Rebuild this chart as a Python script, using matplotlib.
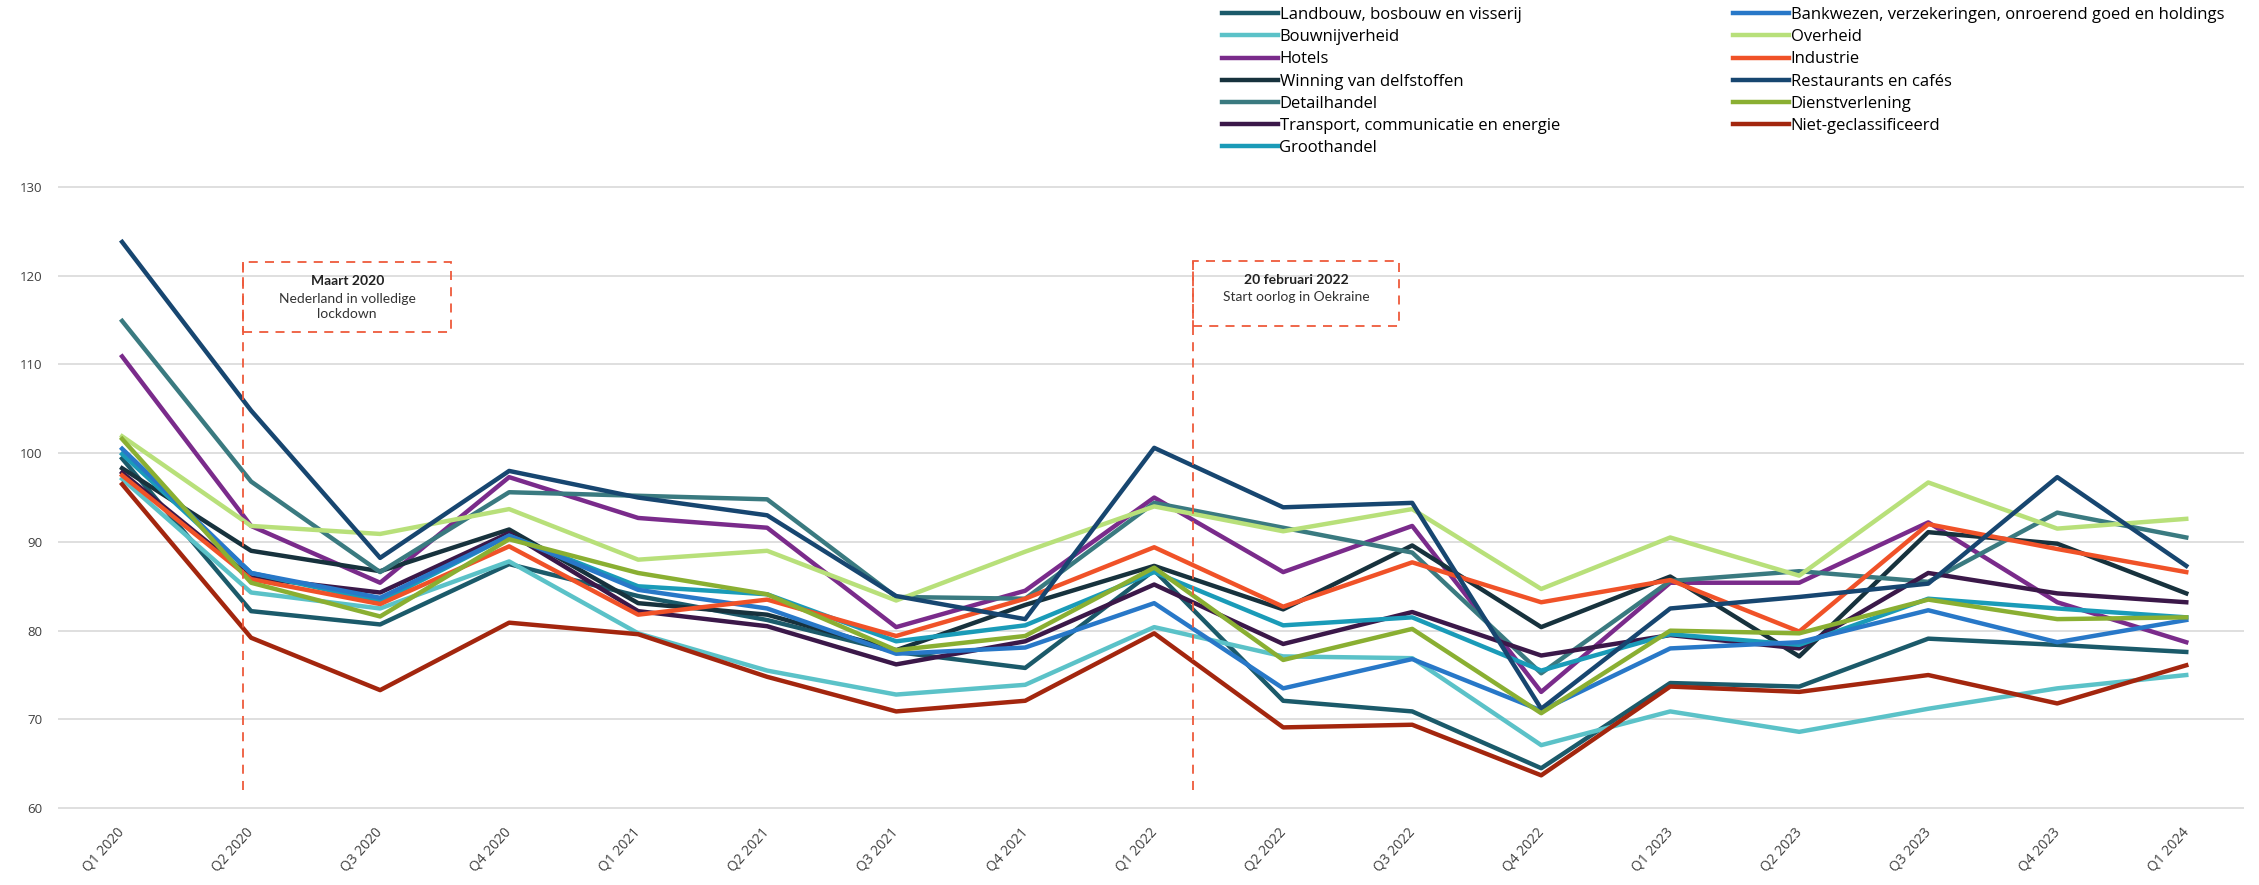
import matplotlib
matplotlib.use("Agg")
import matplotlib.pyplot as plt
from matplotlib.patches import Rectangle
from matplotlib.transforms import ScaledTranslation

plt.rcParams['font.family'] = ['Open Sans', 'DejaVu Sans']

quarters = ['Q1 2020', 'Q2 2020', 'Q3 2020', 'Q4 2020', 'Q1 2021', 'Q2 2021', 'Q3 2021', 'Q4 2021',
            'Q1 2022', 'Q2 2022', 'Q3 2022', 'Q4 2022', 'Q1 2023', 'Q2 2023', 'Q3 2023', 'Q4 2023', 'Q1 2024']

landbouw = [99.4, 82.2, 80.7, 87.5, 83.9, 81.2, 77.6, 75.8, 86.8, 72.1, 70.9, 64.5, 74.1, 73.7, 79.1, 78.4, 77.6]
bouw = [97.1, 84.3, 82.5, 87.8, 79.7, 75.5, 72.8, 73.9, 80.4, 77.1, 76.9, 67.1, 70.9, 68.6, 71.2, 73.5, 75.0]
hotels = [110.9, 91.8, 85.4, 97.3, 92.7, 91.6, 80.4, 84.5, 95.0, 86.6, 91.8, 73.1, 85.4, 85.4, 92.2, 83.2, 78.7]
winning = [98.3, 89.0, 86.7, 91.4, 83.1, 81.8, 77.8, 82.9, 87.3, 82.4, 89.6, 80.4, 86.1, 77.1, 91.1, 89.8, 84.2]
detail = [114.9, 96.8, 86.6, 95.6, 95.2, 94.8, 83.8, 83.6, 94.4, 91.6, 88.8, 75.2, 85.6, 86.7, 85.5, 93.3, 90.5]
transport = [97.8, 86.0, 84.3, 91.0, 82.2, 80.5, 76.2, 78.8, 85.2, 78.5, 82.1, 77.2, 79.5, 78.0, 86.5, 84.2, 83.2]
groot = [99.9, 86.5, 83.3, 90.7, 85.0, 84.1, 78.8, 80.6, 86.6, 80.6, 81.5, 75.5, 79.6, 78.4, 83.6, 82.5, 81.5]
bank = [100.5, 86.5, 83.7, 90.7, 84.6, 82.5, 77.4, 78.1, 83.1, 73.5, 76.8, 71.0, 78.0, 78.7, 82.3, 78.7, 81.2]
overheid = [101.9, 91.8, 90.9, 93.7, 88.0, 89.0, 83.4, 88.9, 94.0, 91.2, 93.7, 84.7, 90.5, 86.2, 96.7, 91.5, 92.6]
industrie = [97.5, 85.8, 83.0, 89.5, 81.8, 83.5, 79.4, 83.6, 89.4, 82.7, 87.7, 83.2, 85.7, 79.9, 92.0, 89.2, 86.6]
restaurants = [123.8, 104.8, 88.2, 98.0, 95.0, 93.0, 83.9, 81.3, 100.6, 93.9, 94.4, 71.2, 82.5, 83.8, 85.3, 97.3, 87.3]
dienst = [101.6, 85.4, 81.6, 90.3, 86.5, 84.1, 77.8, 79.4, 87.1, 76.7, 80.2, 70.7, 80.0, 79.7, 83.5, 81.3, 81.5]
niet = [96.5, 79.2, 73.3, 80.9, 79.6, 74.8, 70.9, 72.1, 79.7, 69.1, 69.4, 63.7, 73.7, 73.1, 75.0, 71.8, 76.1]

series = [
    ('Landbouw, bosbouw en visserij', landbouw, '#1b5a6a'),
    ('Bouwnijverheid', bouw, '#5bc2c8'),
    ('Hotels', hotels, '#7a2b8b'),
    ('Winning van delfstoffen', winning, '#17323d'),
    ('Detailhandel', detail, '#3a7a80'),
    ('Transport, communicatie en energie', transport, '#3b1849'),
    ('Groothandel', groot, '#1a9bb8'),
    ('Bankwezen, verzekeringen, onroerend goed en holdings', bank, '#2878c8'),
    ('Overheid', overheid, '#b8e07a'),
    ('Industrie', industrie, '#f05228'),
    ('Restaurants en cafés', restaurants, '#174670'),
    ('Dienstverlening', dienst, '#8aaf32'),
    ('Niet-geclassificeerd', niet, '#a3260e'),
]

# events: x position (in quarters), box right edge, box top/bottom, title, body
events = [
    (0.94, 2.55, 121.5, 113.7, 'Maart 2020', 'Nederland in volledige\nlockdown'),
    (8.30, 9.90, 121.6, 114.3, '20 februari 2022', 'Start oorlog in Oekraine'),
]

fig = plt.figure(figsize=(22.59, 8.85), dpi=100)
ax = fig.add_axes([0.0255, 0.0768, 0.968, 0.722])

x = list(range(len(quarters)))
handles = []
for name, vals, col in series:
    h, = ax.plot(x, vals, color=col, lw=3.2, label=name)
    handles.append(h)

red = '#ee5a3c'
for x0, x1, top, bot, title, body in events:
    ax.plot([x0, x0], [62, top], color=red, lw=1.3, ls=(0, (5, 4)))
    ax.add_patch(Rectangle((x0, bot), x1 - x0, top - bot, fill=False, ec=red,
                           lw=1.3, ls=(0, (5, 4))))
    xm = (x0 + x1) / 2
    ax.text(xm, top - 2.1, title, ha='center', va='center', fontsize=10, fontweight='bold',
            family=['Lato', 'DejaVu Sans'], color='#222222')
    nl = body.count('\n') + 1
    ax.text(xm, top - 4.0 - (nl - 1) * 1.0, body, ha='center', va='center', fontsize=10,
            family=['Lato', 'DejaVu Sans'], color='#333333', linespacing=1.25)

ax.set_xlim(-0.5, 16.45)
ax.set_ylim(59, 131)
ax.set_yticks(range(60, 131, 10))
ax.set_xticks(x)
ax.set_xticklabels(quarters, rotation=48, ha='right', va='center', rotation_mode='anchor',
                   fontsize=10, color='#404040')
shift = ScaledTranslation(6 / 100, 0, fig.dpi_scale_trans)
for lab in ax.get_xticklabels():
    lab.set_transform(lab.get_transform() + shift)
ax.tick_params(axis='y', labelsize=9.5, labelcolor='#404040', length=0, pad=11)
ax.tick_params(axis='x', length=0, pad=9)
ax.grid(axis='y', color='#d9d9d9', lw=1.2)
ax.set_axisbelow(True)
for s in ax.spines.values():
    s.set_visible(False)

fig.legend(handles=handles, loc='upper left', bbox_to_anchor=(1222 / 2259, 1 - 7 / 885), ncol=2,
           frameon=False, fontsize=12, handlelength=3.35, handletextpad=0.1, labelspacing=0.37,
           columnspacing=10.4, borderpad=0, borderaxespad=0)

fig.savefig('out.png', dpi=100)
